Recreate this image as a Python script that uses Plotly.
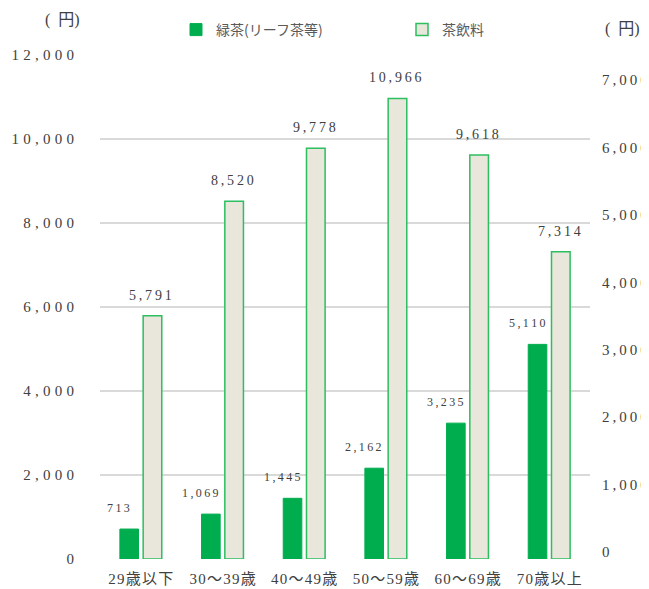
import plotly.graph_objects as go

# data
age_groups = ['29歳以下', '30～39歳', '40～49歳', '50～59歳', '60～69歳', '70歳以上']
green_tea = [713, 1069, 1445, 2162, 3235, 5110]
tea_drinks = [5791, 8520, 9778, 10966, 9618, 7314]

left_ticks = [0, 2000, 4000, 6000, 8000, 10000, 12000]
right_ticks = [0, 1000, 2000, 3000, 4000, 5000, 6000, 7000]

SERIF = "'Liberation Serif', 'Noto Sans CJK JP', serif"
SANS = "'Noto Sans CJK JP', sans-serif"
TEXT = '#404040'
GREEN = '#00AD4E'
BEIGE = '#E9E6DC'
EDGE = '#2DBE60'

# the page body has an 8px margin, so the figure is drawn 8px smaller
# and everything below is given in page pixels minus that offset
OFF = 8
W, H = 649 - OFF, 589 - OFF
L, T = 100 - OFF, 55 - OFF
R, B = W - (590 - OFF), H - (559 - OFF)
PW, PH = W - L - R, H - T - B


def spaced(s, sep='\u2009'):
    # the original uses wide letter spacing on numbers
    return sep.join(s)


def fmt(v, sep='\u2009'):
    return spaced(f'{v:,}', sep)


def px(x, y):
    # page pixel -> paper coords
    return (x - OFF - L) / PW, (T + PH - (y - OFF)) / PH


fig = go.Figure()

fig.add_trace(go.Bar(
    x=age_groups, y=green_tea, name='緑茶(リーフ茶等)',
    marker=dict(color=GREEN, line=dict(color=GREEN, width=1)),
    legend='legend', hoverinfo='skip'
))
fig.add_trace(go.Bar(
    x=age_groups, y=tea_drinks, name='茶飲料',
    marker=dict(color=BEIGE, line=dict(color=EDGE, width=1.5)),
    legend='legend2', hoverinfo='skip'
))
# empty trace so the decorative right axis is drawn
fig.add_trace(go.Scatter(
    x=age_groups, y=[None] * len(age_groups), yaxis='y2',
    showlegend=False, hoverinfo='skip'
))

# value labels
for cat, g, t in zip(age_groups, green_tea, tea_drinks):
    fig.add_annotation(x=cat, y=g, text=fmt(g), showarrow=False,
                       xshift=-22, yshift=12, yanchor='bottom',
                       font=dict(family=SERIF, size=12, color=TEXT))
    fig.add_annotation(x=cat, y=t, text=fmt(t), showarrow=False,
                       xshift=10, yshift=11, yanchor='bottom',
                       font=dict(family=SERIF, size=14, color=TEXT))

# unit labels
for cx, cy in [(62, 20), (622, 29)]:
    ux, uy = px(cx, cy)
    fig.add_annotation(x=ux, y=uy, xref='paper', yref='paper', text='(\u2002円)',
                       xanchor='center', yanchor='middle', showarrow=False,
                       font=dict(family=SERIF, size=16, color=TEXT))

lx1, ly = px(176, 30)
lx2, _ = px(402, 30)
legend_style = dict(orientation='h', yanchor='middle', xanchor='left', y=ly,
                    bgcolor='rgba(0,0,0,0)',
                    font=dict(family=SANS, size=14, color='#595959'),
                    itemclick=False, itemdoubleclick=False)

fig.update_layout(
    width=W, height=H,
    margin=dict(l=L, r=R, t=T, b=B, autoexpand=False),
    plot_bgcolor='white', paper_bgcolor='white',
    barmode='group', bargap=0.43, bargroupgap=0.2,
    showlegend=True,
    legend=dict(x=lx1, **legend_style),
    legend2=dict(x=lx2, **legend_style),
    font=dict(family=SERIF, color=TEXT),
    xaxis=dict(
        tickvals=age_groups,
        ticktext=[spaced(a, '\u200a') for a in age_groups],
        tickfont=dict(family=SERIF, size=15, color=TEXT),
        tickangle=0, automargin=False,
        showline=False, showgrid=False, zeroline=False,
        ticks='', ticklabelstandoff=9, fixedrange=True
    ),
    yaxis=dict(
        range=[0, 12000],
        tickvals=left_ticks,
        ticktext=[fmt(v, '\u2009\u200a') for v in left_ticks],
        tickfont=dict(family=SERIF, size=15, color=TEXT),
        showgrid=True, gridcolor='#D9D9D9', gridwidth=1.5,
        zeroline=False, showline=False, ticks='', automargin=False,
        ticklabelstandoff=25, fixedrange=True
    ),
    yaxis2=dict(
        overlaying='y', side='right',
        range=[-104, 7371],
        tickvals=right_ticks,
        ticktext=[fmt(v) for v in right_ticks],
        tickfont=dict(family=SERIF, size=15, color=TEXT),
        showgrid=False, zeroline=False, showline=False, ticks='', automargin=False,
        ticklabelstandoff=11, fixedrange=True
    ),
)

fig.write_html('out.html')
